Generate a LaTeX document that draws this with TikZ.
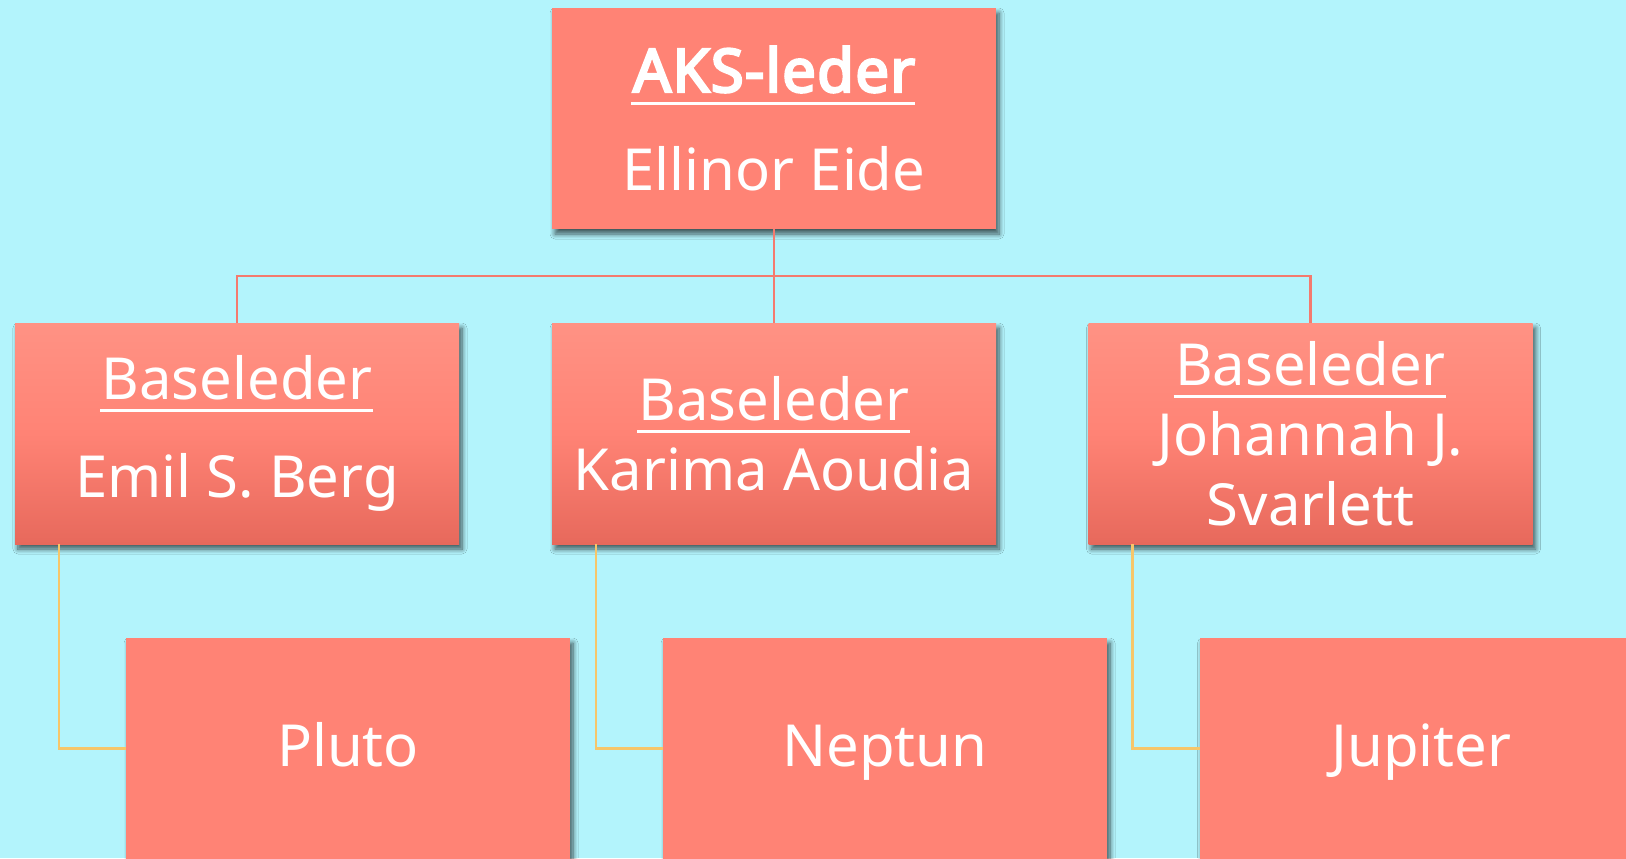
\documentclass[tikz,border=0pt]{standalone}
\usepackage{fontspec}
\setmainfont{Noto Sans}
\newfontfamily\leadbold{Noto Sans}[FakeBold=4,LetterSpace=2]
\usetikzlibrary{shadows.blur}
\usetikzlibrary{calc}

\definecolor{skyback}{RGB}{179,244,252}
\definecolor{salmon}{RGB}{255,131,117}
\definecolor{salmontop}{RGB}{255,146,132}
\definecolor{salmonlow}{RGB}{231,105,92}
\definecolor{leadred}{RGB}{244,122,110}
\definecolor{goldline}{RGB}{246,198,106}
\definecolor{shadowgrey}{RGB}{30,60,75}

\newcommand{\ultext}[1]{%
  \setbox0=\hbox{#1}%
  \rlap{\kern-0.8pt\rule[-6.3pt]{\dimexpr\wd0+1pt\relax}{1.5pt}}\box0}

\tikzset{
  org box/.style={
    rectangle,
    minimum width=222pt,
    minimum height=110.5pt,
    inner sep=0pt,
    outer sep=0pt,
    align=center,
    text=white,
    font={\fontsize{29}{35}\selectfont},
    blur shadow={shadow xshift=1.5pt, shadow yshift=-2.5pt,
      shadow blur radius=2.5pt, shadow blur steps=8,
      shadow opacity=65, shadow scale=1},
  }
}
\tikzset{
  leader node/.style={
    org box,
    fill=salmon,
  },
  base node/.style={
    org box,
    top color=salmontop,
    bottom color=salmonlow,
    middle color=salmon,
  },
  planet node/.style={
    org box,
    fill=salmon,
    text height=17.5pt,
    text depth=0pt,
  },
  lead line/.style={
    draw=leadred,
    line width=1.25pt,
  },
  base link/.style={
    draw=goldline,
    line width=1.2pt,
  },
}

\begin{document}
\begin{tikzpicture}[
    x=0.5pt,
    y=-0.5pt,
    ]

    \useasboundingbox (0,0) rectangle (1626,858);
    \fill[skyback] (0,0) rectangle (1626,858);

    \node[leader node] (aks) at (774,118.5)
      {\ultext{\leadbold\fontsize{30}{35}\selectfont AKS-leder}\\[14pt]Ellinor Eide};

    \node[base node] (emil) at (237,433.5)
      {\ultext{Baseleder}\\[14pt]Emil S. Berg};
    \node[base node] (karima) at (774,433.5)
      {\ultext{Baseleder}\\Karima Aoudia};
    \node[base node] (johannah) at (1310.5,433.5)
      {\ultext{Baseleder}\\Johannah J.\\Svarlett};

    \foreach \n/\t/\x in {pluto/Pluto/348,neptun/Neptun/885,jupiter/Jupiter/1421.5}{
      \node[planet node] (\n) at (\x,748.5) {\t};
    }

    \coordinate (hub) at ($(aks.south)!.5!(karima.north)$);
    \foreach \b in {emil,karima,johannah}{
      \draw[lead line] (aks.south) -- (hub) -| (\b.north);
    }

    \foreach \b/\p in {emil/pluto,karima/neptun,johannah/jupiter}{
      \draw[base link] ([xshift=22pt]\b.south west) |- (\p.west);
    }

  \end{tikzpicture}
\end{document}
